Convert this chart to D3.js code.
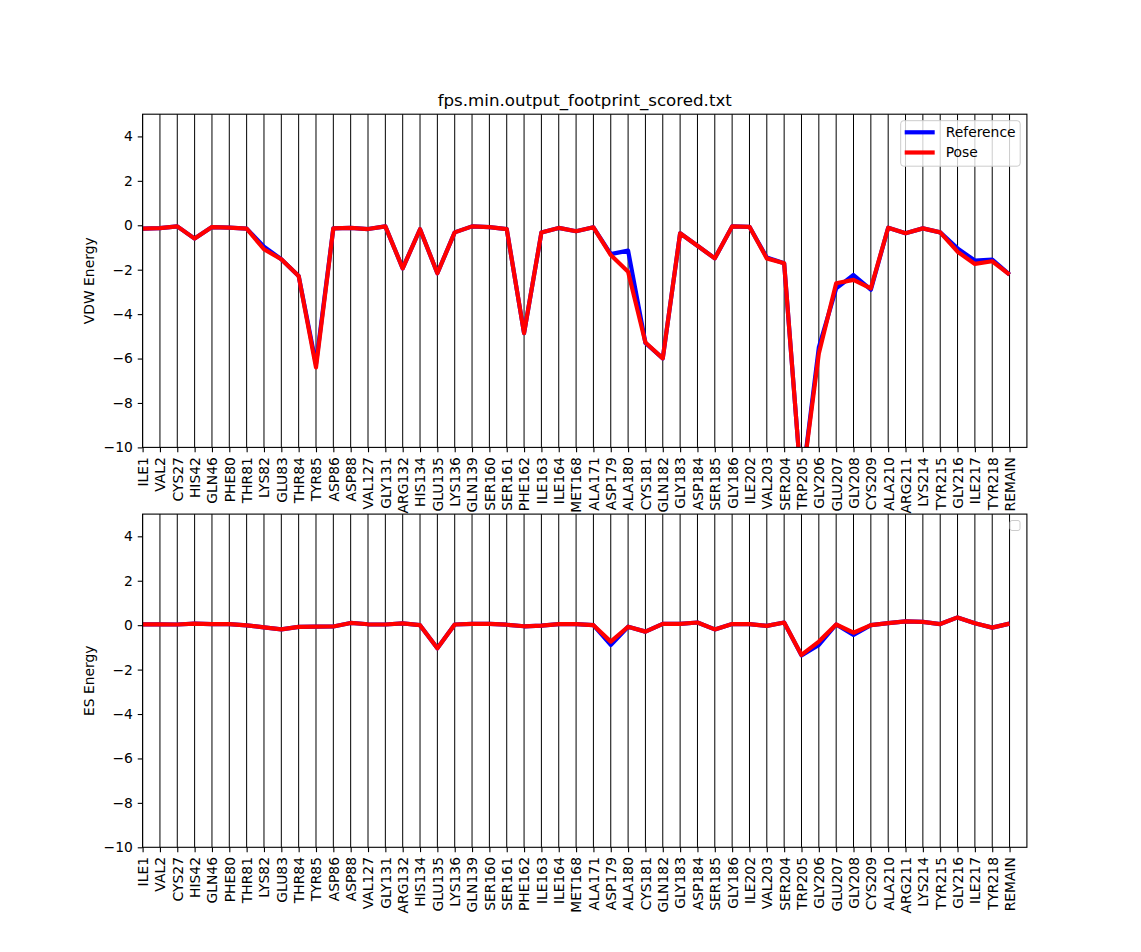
<!DOCTYPE html>
<html>
<head>
<meta charset="utf-8">
<script src="https://cdn.jsdelivr.net/npm/d3@7"></script>
<style>
  html, body { margin: 0; padding: 0; background: #fff; }
  svg { display: block; font-family: "DejaVu Sans", sans-serif; }
</style>
</head>
<body>
<svg id="chart" width="1141" height="952"></svg>
<script>
const categories = ["ILE1","VAL2","CYS27","HIS42","GLN46","PHE80","THR81","LYS82","GLU83","THR84","TYR85","ASP86","ASP88","VAL127","GLY131","ARG132","HIS134","GLU135","LYS136","GLN139","SER160","SER161","PHE162","ILE163","ILE164","MET168","ALA171","ASP179","ALA180","CYS181","GLN182","GLY183","ASP184","SER185","GLY186","ILE202","VAL203","SER204","TRP205","GLY206","GLU207","GLY208","CYS209","ALA210","ARG211","LYS214","TYR215","GLY216","ILE217","TYR218","REMAIN"];

const vdwRef  = [-0.15,-0.13,-0.05,-0.6,-0.08,-0.11,-0.15,-0.96,-1.53,-2.28,-6.25,-0.14,-0.12,-0.17,-0.05,-1.94,-0.18,-2.16,-0.32,-0.05,-0.08,-0.17,-4.86,-0.33,-0.12,-0.27,-0.09,-1.3,-1.14,-5.3,-5.99,-0.36,-0.92,-1.49,-0.05,-0.07,-1.45,-1.71,-11.8,-5.5,-2.84,-2.24,-2.9,-0.11,-0.36,-0.14,-0.32,-1.04,-1.59,-1.55,-2.22];
const vdwPose = [-0.15,-0.13,-0.05,-0.6,-0.08,-0.11,-0.15,-1.08,-1.53,-2.28,-6.4,-0.14,-0.12,-0.17,-0.05,-1.94,-0.18,-2.16,-0.32,-0.05,-0.08,-0.17,-4.86,-0.33,-0.12,-0.27,-0.09,-1.34,-2.09,-5.28,-5.99,-0.36,-0.92,-1.49,-0.05,-0.07,-1.49,-1.71,-11.8,-5.77,-2.61,-2.46,-2.84,-0.11,-0.36,-0.14,-0.32,-1.19,-1.74,-1.62,-2.22];

const esRef  = [0.04,0.04,0.03,0.07,0.05,0.05,-0.01,-0.1,-0.19,-0.08,-0.07,-0.06,0.1,0.04,0.03,0.08,0.0,-1.04,0.03,0.06,0.06,0.02,-0.05,-0.02,0.05,0.05,0.0,-0.89,-0.07,-0.29,0.06,0.06,0.12,-0.19,0.05,0.05,-0.03,0.12,-1.36,-0.89,0.03,-0.44,0.0,0.09,0.17,0.15,0.05,0.35,0.09,-0.11,0.07];
const esPose = [0.04,0.04,0.03,0.07,0.05,0.05,-0.01,-0.1,-0.19,-0.08,-0.07,-0.06,0.1,0.04,0.03,0.08,0.0,-1.04,0.03,0.06,0.06,0.02,-0.05,-0.02,0.05,0.05,0.0,-0.74,-0.07,-0.29,0.06,0.06,0.12,-0.19,0.05,0.05,-0.03,0.12,-1.34,-0.74,0.03,-0.34,0.0,0.09,0.17,0.15,0.05,0.35,0.09,-0.11,0.07];

const yTicks = [-10,-8,-6,-4,-2,0,2,4];
const yDomain = [-10, 5];
const xDomain = [0, 51];
const title = "fps.min.output_footprint_scored.txt";

const svg = d3.select("#chart");
const left = 142.6, right = 1026.9;
const panels = [
  { top: 114.2, bottom: 447.4, ylabel: "VDW Energy", ref: vdwRef, pose: vdwPose, legend: true, id: "c1" },
  { top: 514.1, bottom: 847.3, ylabel: "ES Energy", ref: esRef, pose: esPose, legend: false, id: "c2" }
];

const x = d3.scaleLinear().domain(xDomain).range([left, right]);
const fs = 13.89;
const tickLen = 4.86, pad = 4.86;

panels.forEach(p => {
  const y = d3.scaleLinear().domain(yDomain).range([p.bottom, p.top]);
  const g = svg.append("g");

  g.append("clipPath").attr("id", p.id).append("rect")
    .attr("x", left).attr("y", p.top).attr("width", right - left).attr("height", p.bottom - p.top);

  g.append("g").selectAll("line").data(categories).join("line")
    .attr("x1", (d, i) => x(i)).attr("x2", (d, i) => x(i))
    .attr("y1", p.top).attr("y2", p.bottom)
    .attr("stroke", "#000").attr("stroke-width", 1);

  const line = d3.line().x((d, i) => x(i)).y(d => y(d));
  const lg = g.append("g").attr("clip-path", `url(#${p.id})`);
  lg.append("path").datum(p.ref).attr("d", line)
    .attr("fill", "none").attr("stroke", "#0000ff").attr("stroke-width", 4.2)
    .attr("stroke-linejoin", "round").attr("stroke-linecap", "butt");
  lg.append("path").datum(p.pose).attr("d", line)
    .attr("fill", "none").attr("stroke", "#ff0000").attr("stroke-width", 4.2)
    .attr("stroke-linejoin", "round").attr("stroke-linecap", "butt");

  g.append("rect").attr("x", left).attr("y", p.top)
    .attr("width", right - left).attr("height", p.bottom - p.top)
    .attr("fill", "none").attr("stroke", "#000").attr("stroke-width", 1.1);

  const xAxis = d3.axisBottom(x)
    .tickValues(d3.range(categories.length))
    .tickFormat(i => categories[i])
    .tickSizeInner(tickLen).tickSizeOuter(0).tickPadding(pad);
  const xg = g.append("g").attr("transform", `translate(0,${p.bottom})`).call(xAxis);
  xg.select(".domain").remove();
  xg.selectAll(".tick line").attr("stroke", "#000").attr("stroke-width", 1.1);
  xg.selectAll(".tick text")
    .attr("font-size", fs).attr("font-family", "DejaVu Sans").attr("fill", "#000")
    .attr("text-anchor", "end")
    .attr("transform", `translate(0,${tickLen + pad}) rotate(-90)`)
    .attr("x", 0).attr("y", 0).attr("dy", "0.35em");

  const yAxis = d3.axisLeft(y).tickValues(yTicks)
    .tickFormat(d => d < 0 ? "\u2212" + Math.abs(d) : String(d))
    .tickSizeInner(tickLen).tickSizeOuter(0).tickPadding(pad);
  const yg = g.append("g").attr("transform", `translate(${left},0)`).call(yAxis);
  yg.select(".domain").remove();
  yg.selectAll(".tick line").attr("stroke", "#000").attr("stroke-width", 1.1);
  yg.selectAll(".tick text").attr("font-size", fs).attr("font-family", "DejaVu Sans").attr("fill", "#000");

  g.append("text").text(p.ylabel)
    .attr("transform", `translate(93.5,${(p.top + p.bottom) / 2}) rotate(-90)`)
    .attr("text-anchor", "middle").attr("font-size", fs).attr("fill", "#000");

  if (p.legend) {
    const lx = 900.7, ly = 120.7;
    const lgd = g.append("g");
    lgd.append("rect").attr("x", lx).attr("y", ly).attr("width", 119.5).attr("height", 45.5)
      .attr("rx", 3).attr("fill", "#fff").attr("fill-opacity", 0.8)
      .attr("stroke", "#cccccc").attr("stroke-width", 1);
    const items = [["Reference", "#0000ff"], ["Pose", "#ff0000"]];
    items.forEach((it, k) => {
      const yy = ly + 11.6 + k * 20.2;
      lgd.append("line").attr("x1", lx + 4).attr("x2", lx + 34).attr("y1", yy).attr("y2", yy)
        .attr("stroke", it[1]).attr("stroke-width", 4.2);
      lgd.append("text").text(it[0]).attr("x", lx + 45).attr("y", yy).attr("dy", "0.35em")
        .attr("font-size", fs).attr("fill", "#000");
    });
  } else {
    g.append("rect").attr("x", 1010).attr("y", 520.5).attr("width", 10).attr("height", 10)
      .attr("rx", 2).attr("fill", "#fff").attr("fill-opacity", 0.8)
      .attr("stroke", "#cccccc").attr("stroke-width", 1);
  }
});

svg.append("text").text(title)
  .attr("x", (left + right) / 2).attr("y", 105.5)
  .attr("text-anchor", "middle").attr("font-size", 16.67).attr("fill", "#000");
</script>
</body>
</html>
